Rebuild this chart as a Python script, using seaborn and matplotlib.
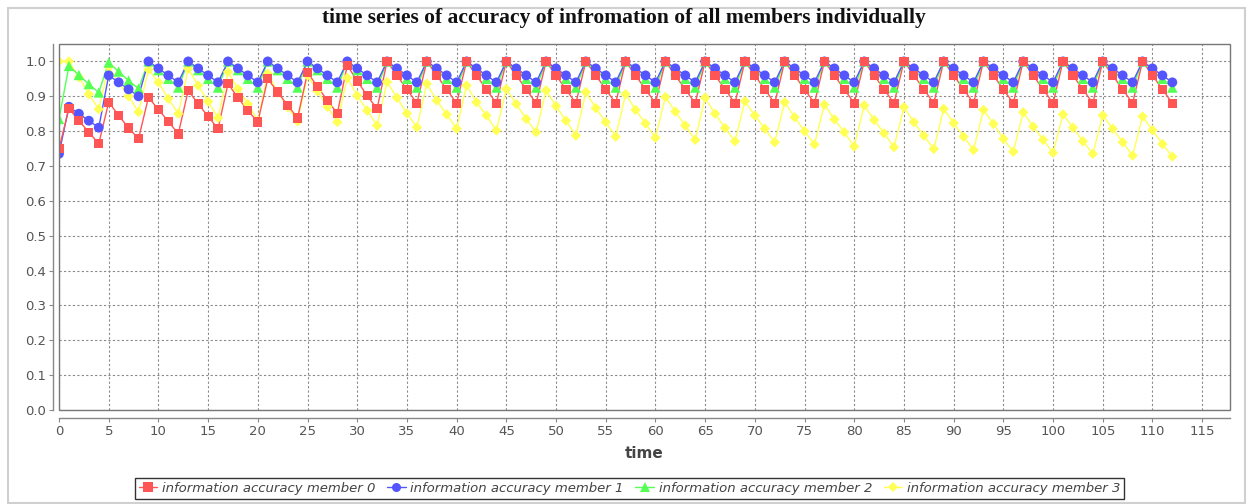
import matplotlib
matplotlib.use("Agg")
import numpy as np
import pandas as pd
import seaborn as sns
import matplotlib.pyplot as plt
from matplotlib.lines import Line2D
from matplotlib.patches import Rectangle

# ---------------- data ----------------
member0 = [0.75,
           0.865, 0.83, 0.797, 0.764, 0.883, 0.845, 0.809, 0.778,
           0.897, 0.862, 0.828, 0.792, 0.917, 0.878, 0.842, 0.807,
           0.936, 0.896, 0.859, 0.826, 0.95, 0.912, 0.874, 0.838,
           0.968, 0.928, 0.888, 0.851, 0.989, 0.944, 0.902, 0.864,
           1.0, 0.96, 0.92, 0.88, 1.0, 0.96, 0.92, 0.88,
           1.0, 0.96, 0.92, 0.88, 1.0, 0.96, 0.92, 0.88,
           1.0, 0.96, 0.92, 0.88, 1.0, 0.96, 0.92, 0.88,
           1.0, 0.96, 0.92, 0.88, 1.0, 0.96, 0.92, 0.88,
           1.0, 0.96, 0.92, 0.88, 1.0, 0.96, 0.92, 0.88,
           1.0, 0.96, 0.92, 0.88, 1.0, 0.96, 0.92, 0.88,
           1.0, 0.96, 0.92, 0.88, 1.0, 0.96, 0.92, 0.88,
           1.0, 0.96, 0.92, 0.88, 1.0, 0.96, 0.92, 0.88,
           1.0, 0.96, 0.92, 0.88, 1.0, 0.96, 0.92, 0.88,
           1.0, 0.96, 0.92, 0.88, 1.0, 0.96, 0.92, 0.88]

member1 = [0.735,
           0.87, 0.85, 0.83, 0.81, 0.96, 0.94, 0.92, 0.90,
           1.0, 0.98, 0.96, 0.94, 1.0, 0.98, 0.96, 0.94,
           1.0, 0.98, 0.96, 0.94, 1.0, 0.98, 0.96, 0.94,
           1.0, 0.98, 0.96, 0.94, 1.0, 0.98, 0.96, 0.94,
           1.0, 0.98, 0.96, 0.94, 1.0, 0.98, 0.96, 0.94,
           1.0, 0.98, 0.96, 0.94, 1.0, 0.98, 0.96, 0.94,
           1.0, 0.98, 0.96, 0.94, 1.0, 0.98, 0.96, 0.94,
           1.0, 0.98, 0.96, 0.94, 1.0, 0.98, 0.96, 0.94,
           1.0, 0.98, 0.96, 0.94, 1.0, 0.98, 0.96, 0.94,
           1.0, 0.98, 0.96, 0.94, 1.0, 0.98, 0.96, 0.94,
           1.0, 0.98, 0.96, 0.94, 1.0, 0.98, 0.96, 0.94,
           1.0, 0.98, 0.96, 0.94, 1.0, 0.98, 0.96, 0.94,
           1.0, 0.98, 0.96, 0.94, 1.0, 0.98, 0.96, 0.94,
           1.0, 0.98, 0.96, 0.94, 1.0, 0.98, 0.96, 0.94]

member2 = [0.835,
           0.987, 0.961, 0.935, 0.911, 0.997, 0.971, 0.945, 0.922,
           1.0, 0.975, 0.95, 0.925, 1.0, 0.975, 0.95, 0.925,
           1.0, 0.975, 0.95, 0.925, 1.0, 0.975, 0.95, 0.925,
           1.0, 0.975, 0.95, 0.925, 1.0, 0.975, 0.95, 0.925,
           1.0, 0.975, 0.95, 0.925, 1.0, 0.975, 0.95, 0.925,
           1.0, 0.975, 0.95, 0.925, 1.0, 0.975, 0.95, 0.925,
           1.0, 0.975, 0.95, 0.925, 1.0, 0.975, 0.95, 0.925,
           1.0, 0.975, 0.95, 0.925, 1.0, 0.975, 0.95, 0.925,
           1.0, 0.975, 0.95, 0.925, 1.0, 0.975, 0.95, 0.925,
           1.0, 0.975, 0.95, 0.925, 1.0, 0.975, 0.95, 0.925,
           1.0, 0.975, 0.95, 0.925, 1.0, 0.975, 0.95, 0.925,
           1.0, 0.975, 0.95, 0.925, 1.0, 0.975, 0.95, 0.925,
           1.0, 0.975, 0.95, 0.925, 1.0, 0.975, 0.95, 0.925,
           1.0, 0.975, 0.95, 0.925, 1.0, 0.975, 0.95, 0.925]

member3 = [1.0,
           1.0, 0.955, 0.906, 0.863, 0.985, 0.94, 0.9, 0.855,
           0.977, 0.94, 0.893, 0.85, 0.979, 0.931, 0.885, 0.838,
           0.97, 0.921, 0.878, 0.83, 0.965, 0.912, 0.869, 0.828,
           0.96, 0.915, 0.87, 0.826, 0.953, 0.902, 0.859, 0.816,
           0.941, 0.896, 0.851, 0.811, 0.936, 0.888, 0.848, 0.807,
           0.931, 0.883, 0.845, 0.802, 0.921, 0.878, 0.835, 0.797,
           0.917, 0.872, 0.83, 0.787, 0.912, 0.866, 0.826, 0.784,
           0.906, 0.861, 0.822, 0.781, 0.898, 0.856, 0.816, 0.775,
           0.896, 0.85, 0.809, 0.771, 0.886, 0.845, 0.807, 0.768,
           0.883, 0.84, 0.80, 0.762, 0.876, 0.834, 0.797, 0.756,
           0.874, 0.832, 0.794, 0.754, 0.869, 0.826, 0.787, 0.749,
           0.864, 0.823, 0.784, 0.746, 0.861, 0.821, 0.778, 0.741,
           0.854, 0.813, 0.775, 0.738, 0.848, 0.81, 0.771, 0.735,
           0.845, 0.807, 0.768, 0.73, 0.842, 0.803, 0.763, 0.727]

time = list(range(len(member0)))
series_names = ["information accuracy member 0", "information accuracy member 1",
                "information accuracy member 2", "information accuracy member 3"]
series_values = [member0, member1, member2, member3]
x_ticks = list(range(0, 116, 5))
y_ticks = [0.0, 0.1, 0.2, 0.3, 0.4, 0.5, 0.6, 0.7, 0.8, 0.9, 1.0]

title = "time series of accuracy of infromation of all members individually"
xlabel = "time"

# ---------------- styles ----------------
colors = ["#FF5555", "#5555FF", "#55FF55", "#FFFF55"]
markers = ["s", "o", "^", "D"]
msizes = [44, 50, 56, 28]

sns.set_theme(style="white")
plt.rcParams["font.family"] = ["DejaVu Sans"]

W, H = 1249, 504
fig = plt.figure(figsize=(W / 100, H / 100), dpi=100)
fig.patch.set_facecolor("white")
L, R, T, B = 59, 1230, 44, 410
ax = fig.add_axes([L / W, 1 - B / H, (R - L) / W, (B - T) / H])
ax.set_facecolor("white")

df = pd.DataFrame({
    "time": time * 4,
    "accuracy": sum(series_values, []),
    "member": sum([[n] * len(time) for n in series_names], []),
})

# lines first (all beneath the markers), reverse order like JFreeChart
for i in [3, 2, 1, 0]:
    sub = df[df["member"] == series_names[i]]
    sns.lineplot(data=sub, x="time", y="accuracy", color=colors[i], lw=1.0,
                 estimator=None, sort=False, ax=ax, legend=False, zorder=3)
for i in [3, 2, 1, 0]:
    sub = df[df["member"] == series_names[i]]
    sns.scatterplot(data=sub, x="time", y="accuracy", color=colors[i],
                    marker=markers[i], s=msizes[i], edgecolor="none", linewidth=0,
                    ax=ax, legend=False, zorder=4 + (3 - i))

ax.set_xlim(0, 117.8)
ax.set_ylim(0, 1.05)
ax.set_xticks(x_ticks)
ax.set_xticklabels([str(t) for t in x_ticks])
ax.set_yticks(y_ticks)
ax.set_yticklabels([f"{v:.1f}" for v in y_ticks])
ax.set_xlabel("")
ax.set_ylabel("")

ax.grid(True, color="#8a8a8a", linestyle=(0, (2, 2)), linewidth=0.8, zorder=1)
ax.set_axisbelow(True)

for s in ["top", "right"]:
    ax.spines[s].set_visible(False)
ax.spines["left"].set_position(("outward", 4.3))
ax.spines["bottom"].set_position(("outward", 5.6))
for s in ["left", "bottom"]:
    ax.spines[s].set_color("#888888")
    ax.spines[s].set_linewidth(1.0)
ax.add_patch(Rectangle((0, 0), 1, 1, transform=ax.transAxes, fill=False,
                       ec="#777777", lw=1.0, clip_on=False, zorder=10))

ax.tick_params(axis="both", which="major", direction="out", length=3,
               width=0.8, color="#888888", labelcolor="#555555", labelsize=9.5,
               pad=2, left=True, bottom=True)

# title, x label
fig.text(624 / W, 1 - 18 / H, title, ha="center", va="center",
         fontfamily="Liberation Serif", fontweight="bold", fontsize=15.5, color="#111111")
fig.text(644 / W, 1 - 453 / H, xlabel, ha="center", va="center",
         fontweight="bold", fontsize=11, color="#444444")

# legend
handles = [Line2D([], [], color=colors[i], marker=markers[i], lw=1.0,
                  markersize=[6.5, 6.5, 7, 5][i], markeredgewidth=0)
           for i in range(4)]
leg = fig.legend(handles, series_names, loc="center", ncol=4,
                 bbox_to_anchor=(629.5 / W, 1 - 488.5 / H),
                 frameon=True, fancybox=False, edgecolor="black",
                 prop={"style": "italic", "size": 9.5},
                 handlelength=1.4, handletextpad=0.35, columnspacing=0.9,
                 borderpad=0.3, borderaxespad=0)
leg.get_frame().set_linewidth(1.0)
for t in leg.get_texts():
    t.set_color("#444444")

# outer light frame
fig.add_artist(Rectangle((8 / W, 1 - 503 / H), (1245 - 8) / W, (503 - 8) / H,
                         transform=fig.transFigure, fill=False, ec="#d0d0d0", lw=1.5))

fig.savefig("out.png", dpi=100, facecolor="white")
